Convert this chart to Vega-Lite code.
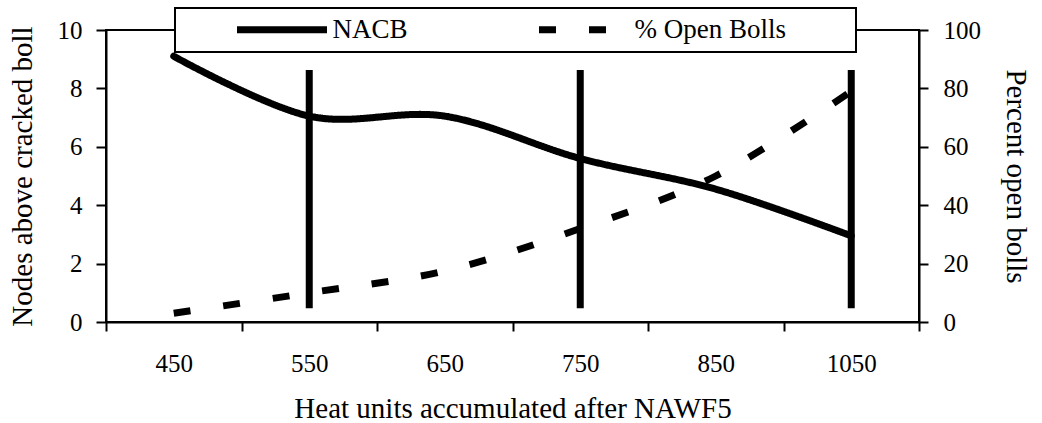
{
  "$schema": "https://vega.github.io/schema/vega-lite/v6.json",
  "width": 813,
  "height": 292,
  "autosize": {"type": "none"},
  "padding": {"left": 106, "top": 30, "right": 123, "bottom": 101},
  "background": "white",
  "config": {
    "font": "Liberation Serif",
    "view": {"stroke": "black", "strokeWidth": 2},
    "legend": {"strokeWidth": 2},
    "axis": {
      "labelFont": "Liberation Serif",
      "titleFont": "Liberation Serif",
      "labelFontSize": 25,
      "titleFontSize": 29,
      "titleFontWeight": "normal",
      "labelColor": "black",
      "titleColor": "black",
      "domain": true,
      "domainColor": "black",
      "domainOpacity": 1,
      "tickColor": "black",
      "domainWidth": 2,
      "tickWidth": 2,
      "grid": false
    }
  },
  "datasets": {
    "curves": [
      {"hu": 450, "series": "NACB", "value": 9.1},
      {"hu": 550, "series": "NACB", "value": 7.05},
      {"hu": 650, "series": "NACB", "value": 7.05},
      {"hu": 750, "series": "NACB", "value": 5.6},
      {"hu": 850, "series": "NACB", "value": 4.55},
      {"hu": 1050, "series": "NACB", "value": 2.95},
      {"hu": 450, "series": "% Open Bolls", "value": 3},
      {"hu": 550, "series": "% Open Bolls", "value": 10},
      {"hu": 650, "series": "% Open Bolls", "value": 17.5},
      {"hu": 750, "series": "% Open Bolls", "value": 32},
      {"hu": 850, "series": "% Open Bolls", "value": 50},
      {"hu": 1050, "series": "% Open Bolls", "value": 79}
    ],
    "bars": [
      {"hu": 550, "lo": 0.47, "hi": 8.63},
      {"hu": 750, "lo": 0.47, "hi": 8.63},
      {"hu": 1050, "lo": 0.47, "hi": 8.63}
    ]
  },
  "layer": [
    {
      "data": {"name": "curves"},
      "transform": [{"filter": "datum.series === 'NACB'"}],
      "mark": {"type": "line", "interpolate": "cardinal", "tension": 0, "color": "black", "strokeWidth": 7, "strokeCap": "round"},
      "encoding": {
        "x": {
          "field": "hu", "type": "ordinal", "bandPosition": 0.5,
          "title": "Heat units accumulated after NAWF5",
          "scale": {"type": "band", "paddingInner": 0, "paddingOuter": 0},
          "axis": {
            "orient": "bottom",
            "labelAngle": 0,
            "tickBand": "extent",
            "tickSize": 9,
            "labelPadding": 20,
            "titlePadding": 18,
            "encode": {"ticks": {"y": {"value": -9}}}
          }
        },
        "y": {
          "field": "value", "type": "quantitative",
          "scale": {"domain": [0, 10], "nice": false},
          "axis": {
            "title": "Nodes above cracked boll",
            "orient": "left",
            "tickCount": 5,
            "domain": true,
            "domainColor": "black",
            "domainWidth": 2,
            "zindex": 1,
            "tickSize": 10,
            "labelPadding": 14,
            "titlePadding": 20,
            "encode": {"ticks": {"x": {"value": 10}}}
          }
        },
        "strokeDash": {
          "field": "series", "type": "nominal",
          "scale": {"domain": ["NACB", "% Open Bolls"], "range": [[1, 0], [17, 33]]},
          "legend": {
            "title": ".",
            "titleOrient": "right",
            "titleOpacity": 0,
            "titleFontSize": 27,
            "titlePadding": 55,
            "orient": "none",
            "legendX": 69,
            "legendY": -22,
            "direction": "horizontal",
            "symbolType": "M-9,0H9",
            "symbolSize": 100,
            "symbolOffset": 85.5,
            "symbolStrokeWidth": 7,
            "symbolStrokeColor": "black",
            "symbolFillColor": "transparent",
            "labelFont": "Liberation Serif",
            "labelFontSize": 27,
            "labelColor": "black",
            "labelOffset": 37,
            "labelLimit": 400,
            "columnPadding": 77,
            "padding": 8,
            "strokeColor": "black",
            "fillColor": "white",
            "zindex": 2
          }
        }
      }
    },
    {
      "data": {"name": "bars"},
      "mark": {"type": "rule", "color": "black", "strokeWidth": 7},
      "encoding": {
        "x": {"field": "hu", "type": "ordinal", "bandPosition": 0.5, "title": "Heat units accumulated after NAWF5", "scale": {"type": "band", "paddingInner": 0, "paddingOuter": 0}},
        "y": {"field": "lo", "type": "quantitative", "scale": {"domain": [0, 10], "nice": false}, "axis": null},
        "y2": {"field": "hi"}
      }
    },
    {
      "data": {"name": "curves"},
      "transform": [{"filter": "datum.series === '% Open Bolls'"}],
      "mark": {"type": "line", "interpolate": "cardinal", "tension": 0, "color": "black", "strokeWidth": 7, "strokeCap": "butt"},
      "encoding": {
        "x": {"field": "hu", "type": "ordinal", "bandPosition": 0.5, "title": "Heat units accumulated after NAWF5", "scale": {"type": "band", "paddingInner": 0, "paddingOuter": 0}},
        "y": {
          "field": "value", "type": "quantitative",
          "scale": {"domain": [0, 100], "nice": false},
          "axis": {
            "title": "Percent open bolls",
            "orient": "right",
            "tickCount": 5,
            "domain": true,
            "domainColor": "black",
            "domainWidth": 2,
            "zindex": 1,
            "tickSize": 9,
            "labelPadding": 15,
            "titlePadding": 20,
            "encode": {"ticks": {"x": {"value": -9}}}
          }
        },
        "strokeDash": {
          "field": "series", "type": "nominal",
          "scale": {"domain": ["NACB", "% Open Bolls"], "range": [[1, 0], [17, 33]]},
          "legend": null
        }
      }
    }
  ],
  "resolve": {"scale": {"y": "independent"}}
}
